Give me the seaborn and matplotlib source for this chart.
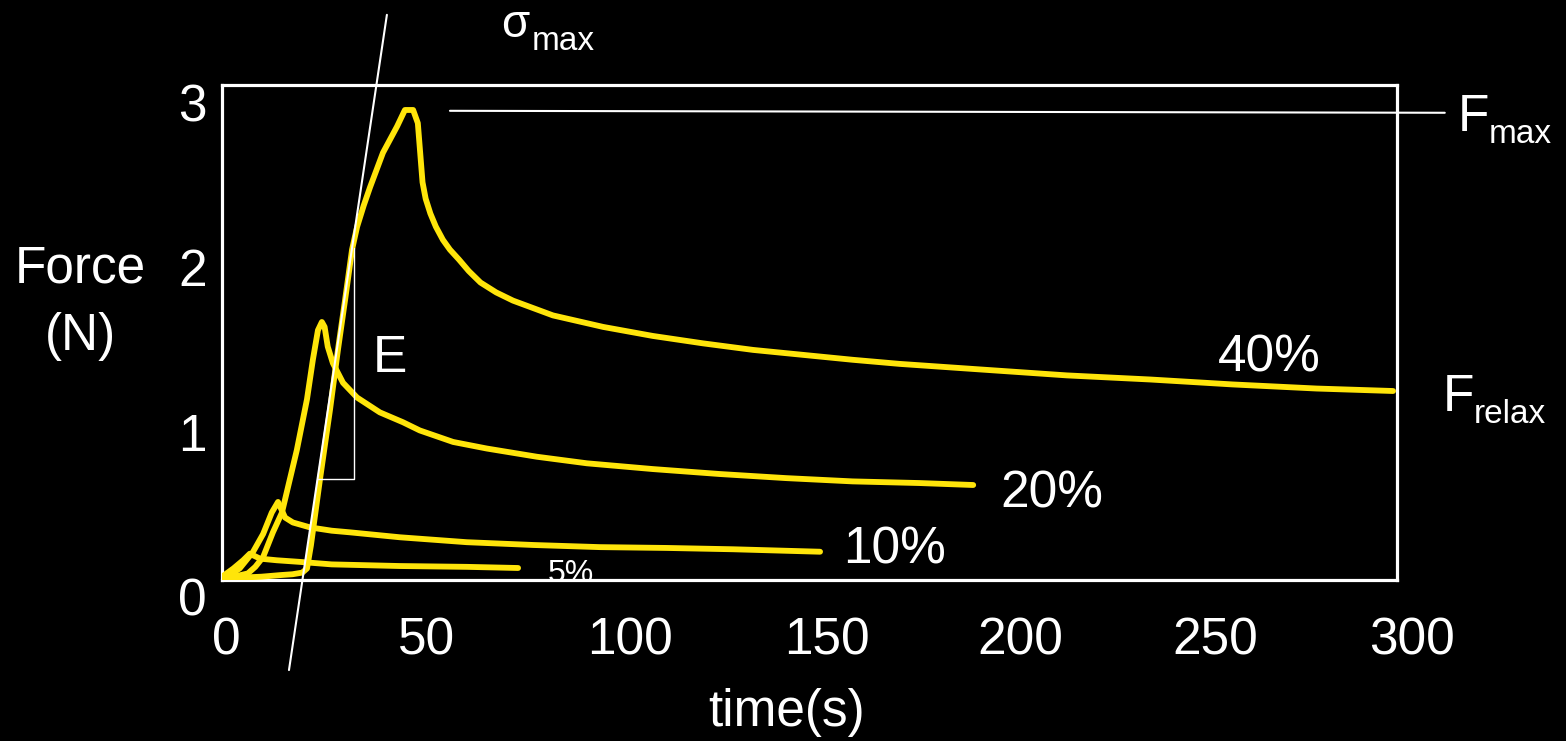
import matplotlib
matplotlib.use("Agg")
import matplotlib.pyplot as plt
import matplotlib.transforms as mtransforms
import seaborn as sns
import pandas as pd

# Stress-relaxation curves: force (N) against time (s) for four strain levels
t_40 = [0, 5, 10, 15, 18, 20.5, 21.7, 22.7, 25.0, 27.6, 29.6, 31.4, 33.2, 34.5,
        36.2, 37.8, 41.1, 44.7, 46.7, 48.8, 50, 50.6, 51.2, 52, 53.2, 54.6, 56.4,
        58.2, 60.5, 63, 66, 70, 74.3, 84.5, 97.3, 110, 122.8, 135.6, 148.3, 161, 173,
        194.3, 215.7, 237, 258, 279.5, 299]
F_40 = [0.01, 0.015, 0.02, 0.03, 0.035, 0.045, 0.07, 0.21, 0.61, 1.04, 1.40, 1.70,
        2.01, 2.15, 2.28, 2.39, 2.60, 2.76, 2.86, 2.86, 2.78, 2.60, 2.42, 2.32, 2.23,
        2.15, 2.07, 2.01, 1.95, 1.88, 1.81, 1.75, 1.70, 1.61, 1.54, 1.485, 1.44, 1.40,
        1.37, 1.34, 1.315, 1.28, 1.245, 1.22, 1.19, 1.165, 1.15]

t_20 = [0, 3, 6.6, 8.5, 10.5, 13, 15.3, 16.8, 19.1, 21.7, 23.2, 24.5, 25.5, 26.2, 27,
        28.3, 30.9, 34.5, 40.3, 46.2, 50.5, 59, 67.6, 80.4, 93.2, 110, 127, 144, 161,
        178, 191.8]
F_20 = [0.01, 0.02, 0.04, 0.08, 0.14, 0.29, 0.41, 0.56, 0.79, 1.10, 1.34, 1.52, 1.57,
        1.54, 1.42, 1.32, 1.20, 1.11, 1.02, 0.96, 0.91, 0.84, 0.80, 0.75, 0.71, 0.675,
        0.645, 0.62, 0.60, 0.59, 0.578]

t_10 = [0, 2, 4.5, 7.9, 10.5, 12.7, 14.3, 16.1, 18.1, 22.5, 28, 32.7, 45.4, 62.5,
        79.5, 96.5, 113.6, 130.5, 152.7]
F_10 = [0.01, 0.03, 0.07, 0.17, 0.28, 0.41, 0.475, 0.38, 0.35, 0.32, 0.30, 0.29, 0.26,
        0.23, 0.213, 0.20, 0.195, 0.187, 0.172]

t_5 = [0, 2.9, 5.4, 7.1, 9.7, 14, 20, 28, 45.4, 62.5, 75.6]
F_5 = [0.02, 0.07, 0.12, 0.16, 0.13, 0.12, 0.11, 0.095, 0.085, 0.08, 0.073]

strain_labels = ["40%", "20%", "10%", "5%"]

x_ticks = [0, 50, 100, 150, 200, 250, 300]
y_ticks = [0, 1, 2, 3]

# Construction lines: initial-slope line (sigma_max), modulus triangle, F_max level
slope_t = [42.1, 17.1]
slope_F = [3.439, -0.548]
tri_t = [24.4, 33.7, 33.7]
tri_F = [0.615, 0.615, 2.02]
fmax_t = [58.2, 312.2]
fmax_F = [2.855, 2.843]

W, H = 1566, 741
YELLOW = "#FFE50A"

sns.set_style("dark", {
    "axes.facecolor": "black",
    "figure.facecolor": "black",
    "axes.edgecolor": "white",
    "text.color": "white",
    "xtick.color": "white",
    "ytick.color": "white",
    "axes.grid": False,
})
plt.rcParams["font.family"] = ["Liberation Sans", "DejaVu Sans"]

fig = plt.figure(figsize=(W / 100, H / 100), dpi=100, facecolor="black")
ax = fig.add_axes([222 / W, 1 - 580 / H, (1397 - 222) / W, (580 - 85) / H])
ax.set_facecolor("black")

series = [(t_40, F_40), (t_20, F_20), (t_10, F_10), (t_5, F_5)]
for (tt, ff), lab in zip(series, strain_labels):
    df = pd.DataFrame({"time": tt, "force": ff})
    sns.lineplot(data=df, x="time", y="force", ax=ax, color=YELLOW, lw=4.2,
                 sort=False, estimator=None, solid_capstyle="round",
                 solid_joinstyle="round", zorder=3)

ax.set_xlim(0, 300)
ax.set_ylim(0, 3.012)
ax.set_xlabel("")
ax.set_ylabel("")

for sp in ax.spines.values():
    sp.set_color("white")
    sp.set_linewidth(2.3)
    sp.set_visible(True)

ax.set_xticks(x_ticks)
ax.set_xticklabels([str(v) for v in x_ticks])
ax.set_yticks(y_ticks)
ax.set_yticklabels([str(v) for v in y_ticks])
ax.tick_params(axis="x", direction="in", length=6, width=1, pad=26, labelsize=37,
               colors="white")
ax.tick_params(axis="y", direction="in", length=8, width=1, pad=11, labelsize=37,
               colors="white")

# Nudge tick labels the way they sit on the slide
x_shift = [4, 9, 16, 17, 15, 14, 15]
for lab, dx in zip(ax.get_xticklabels(), x_shift):
    lab.set_transform(lab.get_transform() +
                      mtransforms.ScaledTranslation(dx / 100, 0, fig.dpi_scale_trans))
for lab in ax.get_yticklabels():
    lab.set_transform(lab.get_transform() +
                      mtransforms.ScaledTranslation(0, -16 / 100, fig.dpi_scale_trans))

# Construction lines
ax.plot(slope_t, slope_F, color="white", lw=1.5, clip_on=False, zorder=4)
ax.plot(tri_t, tri_F, color="white", lw=1.0, clip_on=False, zorder=4)
ax.plot(fmax_t, fmax_F, color="white", lw=1.5, clip_on=False, zorder=4)


def fx(x):
    return x / W


def fy(y):
    return 1 - y / H


# Axis titles
fig.text(fx(80), fy(283), "Force", fontsize=37, ha="center", va="baseline")
fig.text(fx(80), fy(350), "(N)", fontsize=37, ha="center", va="baseline")
fig.text(fx(787), fy(726), "time(s)", fontsize=37, ha="center", va="baseline")

# Annotations
fig.text(fx(373), fy(372), "E", fontsize=37, ha="left", va="baseline")
fig.text(fx(501), fy(37), "σ", fontsize=33, ha="left", va="baseline")
fig.text(fx(532), fy(50), "max", fontsize=24, ha="left", va="baseline")
fig.text(fx(1458), fy(131), "F", fontsize=37, ha="left", va="baseline")
fig.text(fx(1489), fy(143), "max", fontsize=24, ha="left", va="baseline")
fig.text(fx(1443), fy(411), "F", fontsize=37, ha="left", va="baseline")
fig.text(fx(1474), fy(423), "relax", fontsize=24, ha="left", va="baseline")

# Strain labels at the ends of the curves
label_pos = [(1218, 372, 37), (1000, 507, 37), (843, 564, 37), (548, 582, 23)]
for lab, (px, py, fs) in zip(strain_labels, label_pos):
    ax.text(fx(px), fy(py), lab, fontsize=fs, ha="left", va="baseline",
            transform=fig.transFigure, clip_on=False, zorder=1, color="white")

fig.savefig("out.png", dpi=100, facecolor="black")
